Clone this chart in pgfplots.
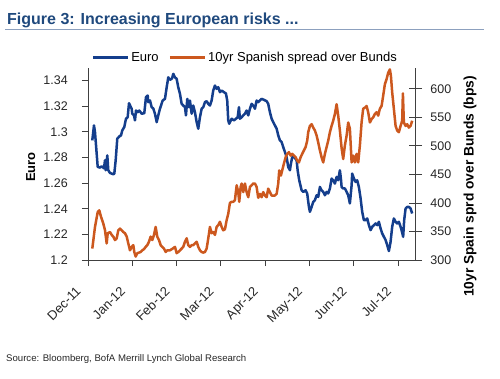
\documentclass[border=0pt]{standalone}
\usepackage{fontspec}
\setmainfont{Liberation Sans}
\usepackage{pgfplots}
\usepackage{pgfplotstable}
\pgfplotsset{compat=1.18}
\definecolor{euroblue}{RGB}{20,62,140}
\definecolor{spreadorange}{RGB}{204,88,30}
\definecolor{titleblue}{RGB}{31,73,125}
\definecolor{rulecol}{RGB}{140,160,190}
\newcommand{\tl}[1]{#1\rule{18pt}{0pt}}

\pgfplotstableread{
x y
0.097 1.2933
0.135 1.3050
0.158 1.2998
0.219 1.2726
0.271 1.2721
0.309 1.2731
0.361 1.2715
0.384 1.2778
0.400 1.2700
0.436 1.2816
0.458 1.2700
0.497 1.2679
0.571 1.2669
0.594 1.2674
0.625 1.2778
0.661 1.2946
0.707 1.2964
0.745 1.2972
0.774 1.3011
0.819 1.3037
0.858 1.3102
0.896 1.3114
0.926 1.3223
0.986 1.3180
1.000 1.3141
1.038 1.3128
1.061 1.3089
1.084 1.3166
1.122 1.3153
1.158 1.3166
1.212 1.3141
1.271 1.3145
1.309 1.3270
1.348 1.3283
1.361 1.3231
1.400 1.3244
1.438 1.3192
1.474 1.3182
1.512 1.3141
1.551 1.3075
1.587 1.3128
1.625 1.3180
1.686 1.3244
1.738 1.3257
1.777 1.3348
1.813 1.3425
1.851 1.3405
1.896 1.3415
1.926 1.3452
1.964 1.3425
2.002 1.3413
2.038 1.3348
2.077 1.3296
2.115 1.3218
2.151 1.3205
2.190 1.3192
2.212 1.3128
2.242 1.3257
2.280 1.3192
2.302 1.3244
2.341 1.3141
2.377 1.3205
2.415 1.3153
2.454 1.3075
2.490 1.3024
2.528 1.3114
2.567 1.3180
2.603 1.3192
2.641 1.3231
2.679 1.3239
2.716 1.3218
2.754 1.3205
2.792 1.3244
2.828 1.3322
2.867 1.3361
2.905 1.3335
2.941 1.3348
2.980 1.3309
3.018 1.3322
3.070 1.3309
3.115 1.3299
3.144 1.3244
3.167 1.3089
3.189 1.3063
3.244 1.3102
3.296 1.3089
3.341 1.3102
3.379 1.3112
3.409 1.3192
3.431 1.3102
3.470 1.3114
3.506 1.3128
3.544 1.3141
3.582 1.3166
3.619 1.3128
3.657 1.3180
3.695 1.3218
3.731 1.3205
3.770 1.3180
3.808 1.3244
3.844 1.3231
3.921 1.3257
3.957 1.3252
4.034 1.3239
4.070 1.3218
4.108 1.3153
4.147 1.3102
4.183 1.3075
4.221 1.3050
4.260 1.3024
4.296 1.2972
4.334 1.2933
4.372 1.2920
4.409 1.2881
4.447 1.2842
4.485 1.2803
4.521 1.2726
4.560 1.2700
4.582 1.2752
4.612 1.2803
4.657 1.2803
4.711 1.2778
4.734 1.2700
4.770 1.2622
4.824 1.2544
4.861 1.2531
4.914 1.2544
4.950 1.2519
4.989 1.2414
5.011 1.2376
5.050 1.2414
5.086 1.2453
5.124 1.2467
5.163 1.2505
5.199 1.2492
5.237 1.2570
5.275 1.2544
5.312 1.2531
5.350 1.2505
5.388 1.2531
5.424 1.2519
5.463 1.2558
5.501 1.2635
5.537 1.2622
5.576 1.2596
5.614 1.2648
5.650 1.2622
5.688 1.2700
5.711 1.2635
5.727 1.2570
5.763 1.2558
5.801 1.2558
5.840 1.2531
5.876 1.2505
5.914 1.2441
5.953 1.2583
5.966 1.2674
6.005 1.2635
6.043 1.2609
6.079 1.2622
6.117 1.2570
6.156 1.2480
6.192 1.2376
6.230 1.2311
6.269 1.2311
6.305 1.2324
6.343 1.2272
6.381 1.2233
6.418 1.2259
6.456 1.2272
6.494 1.2285
6.531 1.2272
6.569 1.2298
6.607 1.2246
6.643 1.2208
6.682 1.2181
6.720 1.2156
6.756 1.2117
6.795 1.2070
6.833 1.2142
6.869 1.2259
6.907 1.2324
6.946 1.2298
6.982 1.2285
7.020 1.2298
7.059 1.2259
7.081 1.2233
7.117 1.2181
7.140 1.2311
7.172 1.2402
7.208 1.2414
7.246 1.2414
7.284 1.2402
7.321 1.2363
}\eurodata

\pgfplotstableread{
x y
0.097 320
0.158 358
0.219 384
0.255 387
0.293 376
0.345 364
0.384 352
0.422 329
0.445 347
0.497 349
0.535 344
0.571 341
0.609 335
0.648 338
0.684 352
0.722 355
0.761 352
0.797 349
0.835 347
0.874 341
0.910 329
0.948 317
0.986 323
1.023 326
1.045 314
1.077 306
1.113 312
1.151 313
1.190 314
1.226 317
1.264 319
1.302 323
1.339 326
1.377 332
1.415 341
1.451 335
1.490 344
1.528 358
1.564 341
1.603 335
1.641 326
1.677 323
1.716 320
1.754 314
1.790 317
1.851 317
1.912 320
1.964 323
2.002 312
2.038 314
2.077 317
2.115 320
2.151 323
2.190 332
2.228 338
2.264 326
2.302 323
2.341 326
2.377 326
2.415 329
2.454 332
2.490 323
2.528 317
2.567 314
2.603 313
2.641 314
2.679 320
2.716 338
2.754 358
2.792 347
2.828 349
2.867 344
2.905 358
2.941 361
2.980 367
3.018 358
3.054 352
3.093 354
3.131 370
3.167 381
3.205 400
3.244 402
3.280 402
3.318 405
3.357 431
3.393 419
3.415 402
3.447 428
3.470 434
3.506 419
3.544 434
3.582 419
3.619 410
3.657 428
3.695 431
3.731 434
3.770 434
3.808 428
3.844 409
3.883 416
3.921 410
3.957 419
3.995 413
4.034 410
4.070 425
4.108 419
4.147 413
4.183 413
4.221 413
4.260 416
4.296 434
4.318 457
4.357 448
4.386 457
4.424 469
4.463 480
4.499 486
4.537 489
4.576 483
4.612 486
4.650 483
4.689 480
4.725 474
4.763 471
4.801 480
4.837 486
4.876 492
4.914 498
4.950 509
4.973 524
5.011 535
5.050 538
5.086 532
5.124 527
5.163 518
5.199 506
5.237 492
5.275 480
5.312 471
5.350 486
5.388 498
5.424 509
5.463 524
5.501 535
5.537 544
5.576 556
5.614 573
5.650 553
5.688 527
5.727 496
5.763 477
5.801 501
5.840 518
5.876 541
5.914 530
5.953 471
5.989 483
6.027 471
6.065 486
6.102 471
6.140 501
6.178 541
6.214 565
6.253 567
6.291 570
6.327 559
6.366 541
6.404 547
6.440 550
6.479 556
6.517 559
6.553 553
6.591 565
6.630 570
6.666 588
6.704 608
6.743 617
6.779 628
6.817 634
6.840 623
6.869 594
6.907 565
6.946 535
6.982 527
7.020 524
7.059 535
7.095 544
7.111 592
7.133 541
7.172 535
7.208 538
7.246 532
7.284 535
7.321 544
}\spreaddata

\begin{document}
\begin{tikzpicture}
\useasboundingbox (0pt,0pt) rectangle (500pt,378pt);
% title
\node[anchor=base west, inner sep=0pt, text=titleblue, font=\fontsize{16}{19}\selectfont\bfseries] at (7pt,353pt) {Figure 3: Increasing European risks ...};
\draw[rulecol, line width=0.8pt] (5pt,348.7pt) -- (484pt,348.7pt);
% source
\node[anchor=base west, inner sep=0pt, font=\fontsize{9.6}{11}\selectfont, text=black!85] at (6pt,16.5pt) {Source: Bloomberg, BofA Merrill Lynch Global Research};
% axis labels
\node[rotate=90, font=\fontsize{13}{15}\selectfont\bfseries, inner sep=0pt] at (30.7pt,211pt) {Euro};
\node[rotate=90, font=\fontsize{13.8}{16}\selectfont\bfseries, inner sep=0pt] at (470pt,191.5pt) {10yr Spain sprd over Bunds (bps)};

\begin{axis}[
  at={(88pt,118pt)}, anchor=south west,
  scale only axis, width=327.7pt, height=192.3pt,
  xmin=0, xmax=7.40,
  ymin=1.2, ymax=1.35,
  axis x line*=bottom, axis y line*=left,
  axis line style={black!75, line width=0.8pt},
  tick style={black!75, line width=0.8pt},
  tick align=outside, major tick length=6pt,
  xtick={0,1,2,3,4,5,6,7},
  xticklabels={\tl{Dec-11},\tl{Jan-12},\tl{Feb-12},\tl{Mar-12},\tl{Apr-12},\tl{May-12},\tl{Jun-12},\tl{Jul-12}},
  ytick={1.2,1.22,1.24,1.26,1.28,1.3,1.32,1.34},
  /pgf/number format/assume math mode=true,
  /pgf/number format/fixed, /pgf/number format/precision=2,
  yticklabel style={inner sep=0pt, xshift=-14pt, font=\fontsize{12.5}{14}\selectfont, text=black!85},
  xticklabel style={rotate=45, anchor=north east, inner sep=0pt, font=\fontsize{13}{15}\selectfont, text=black!85},
  xticklabel shift=7pt,
  clip=false,
]
\addplot[euroblue, line width=2.5pt, line join=round] table[x=x,y=y] {\eurodata};
\end{axis}

\begin{axis}[
  at={(88pt,118pt)}, anchor=south west,
  scale only axis, width=327.7pt, height=192.3pt,
  xmin=0, xmax=7.40,
  ymin=300, ymax=637,
  axis x line=none, axis y line*=right,
  axis line style={black!75, line width=0.8pt},
  tick style={black!75, line width=0.8pt},
  tick align=center, major tick length=13pt,
  ytick={300,350,400,450,500,550,600},
  /pgf/number format/assume math mode=true,
  yticklabel style={inner sep=0pt, xshift=8pt, font=\fontsize{12.5}{14}\selectfont, text=black!85},
  legend columns=2,
  legend style={at={(axis description cs:0.48,1.052)}, anchor=center, draw=none, fill=none,
    font=\fontsize{13}{15}\selectfont, inner sep=0pt,
    /tikz/every even column/.append style={column sep=8pt}},
  legend image code/.code={\draw[#1] (0pt,0pt) -- (35pt,0pt);},
  clip=false,
]
\addlegendimage{euroblue, line width=2.5pt}
\addlegendentry{Euro}
\addplot[spreadorange, line width=2.5pt, line join=round] table[x=x,y=y] {\spreaddata};
\addlegendentry{10yr Spanish spread over Bunds}
\end{axis}
\end{tikzpicture}
\end{document}
